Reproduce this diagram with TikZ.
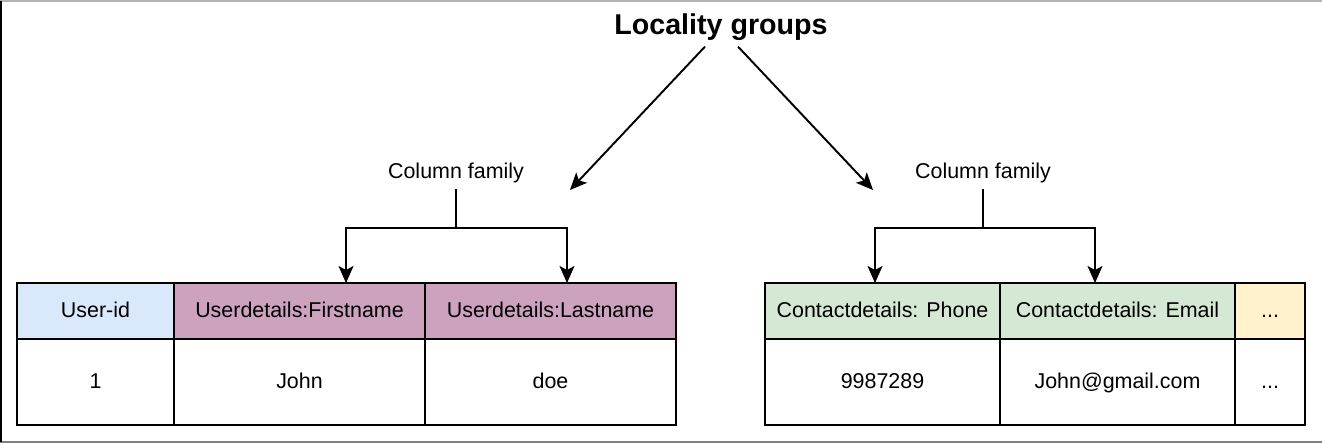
\documentclass[tikz,border=0pt]{standalone}
\usepackage{fontspec}
\setmainfont{Liberation Sans}
\usepackage{tikz}
\usetikzlibrary{positioning, arrows.meta}
\definecolor{idblue}{HTML}{DAE8FC}
\definecolor{userpurple}{HTML}{CDA2BE}
\definecolor{contactgreen}{HTML}{D5E8D4}
\definecolor{moreyellow}{HTML}{FFF2CC}
\definecolor{framegray}{HTML}{B3B3B3}
\tikzset{
	tablecell/.style={
			rectangle,
			draw=black,
			line width=1.1pt,
			outer sep=0pt,
			inner sep=0pt,
			text height=0.72em,
			text depth=0pt,
			font=\fontsize{12.2}{14}\selectfont
		},
	headcell/.style={
			tablecell,
			minimum height=1.12cm
		},
	valuecell/.style={
			tablecell,
			fill=white,
			minimum height=1.72cm
		},
	familynode/.style={
			font=\fontsize{12.2}{14}\selectfont
		},
	titlenode/.style={
			font=\bfseries\fontsize{16.3}{19}\selectfont
		},
	linkline/.style={
			line width=1.1pt
		}
}

\begin{document}
\begin{tikzpicture}[>={Stealth[length=3.4mm, width=3mm, inset=0.8mm]}]
\useasboundingbox (0,0) rectangle (26.44,8.9);
    % frame
    \draw[framegray, line width=1pt] (0,8.88) -- (26.44,8.88);
    \draw[gray, line width=1pt] (0,0.06) -- (26.44,0.06);
    \draw[black, line width=1pt] (0.02,0.06) -- (0.02,8.88);

    \node[titlenode] (title) at (14.42,8.36) {Locality groups};
    \node[familynode] (cfl) at (9.12,5.44) {Column family};
    \node[familynode] (cfr) at (19.66,5.44) {Column family};

    % user table
    \node[headcell, fill=idblue, minimum width=3.14cm] (uid) at (1.91,2.68) {User-id};
    \node[headcell, fill=userpurple, minimum width=5.02cm, right=0pt of uid] (fname) {Userdetails:Firstname};
    \node[headcell, fill=userpurple, minimum width=5.02cm, right=0pt of fname] (lname) {Userdetails:Lastname};
    \node[valuecell, minimum width=3.14cm, below=0pt of uid] (uidval) {1};
    \node[valuecell, minimum width=5.02cm, below=0pt of fname] (fnameval) {John};
    \node[valuecell, minimum width=5.02cm, below=0pt of lname] (lnameval) {doe};

    % contact table
    \node[headcell, fill=contactgreen, minimum width=4.7cm] (phone) at (17.65,2.68) {Contactdetails: Phone};
    \node[headcell, fill=contactgreen, minimum width=4.7cm, right=0pt of phone] (email) {Contactdetails: Email};
    \node[headcell, fill=moreyellow, minimum width=1.4cm, right=0pt of email] (more) {...};
    \node[valuecell, minimum width=4.7cm, below=0pt of phone] (phoneval) {9987289};
    \node[valuecell, minimum width=4.7cm, below=0pt of email] (emailval) {John@gmail.com};
    \node[valuecell, minimum width=1.4cm, below=0pt of more] (moreval) {...};

    \coordinate (tipl) at (11.4,5.1);
    \coordinate (tipr) at (17.46,5.1);
    \coordinate (forkl1) at (6.92,4.34);
    \coordinate (forkl2) at (11.34,4.34);
    \coordinate (forkr1) at (17.5,4.34);
    \coordinate (forkr2) at (21.9,4.34);

    \draw[linkline, ->] ([xshift=-0.32cm]title.south) -- (tipl);
    \draw[linkline, ->] ([xshift=0.34cm]title.south) -- (tipr);

    \draw[linkline] (cfl.south) -- (cfl.south |- forkl1);
    \draw[linkline, <->] (forkl1 |- fname.north) -- (forkl1) -- (forkl2) -- (forkl2 |- lname.north);
    \draw[linkline] (cfr.south) -- (cfr.south |- forkr1);
    \draw[linkline, <->] (forkr1 |- phone.north) -- (forkr1) -- (forkr2) -- (forkr2 |- email.north);
\end{tikzpicture}
\end{document}
